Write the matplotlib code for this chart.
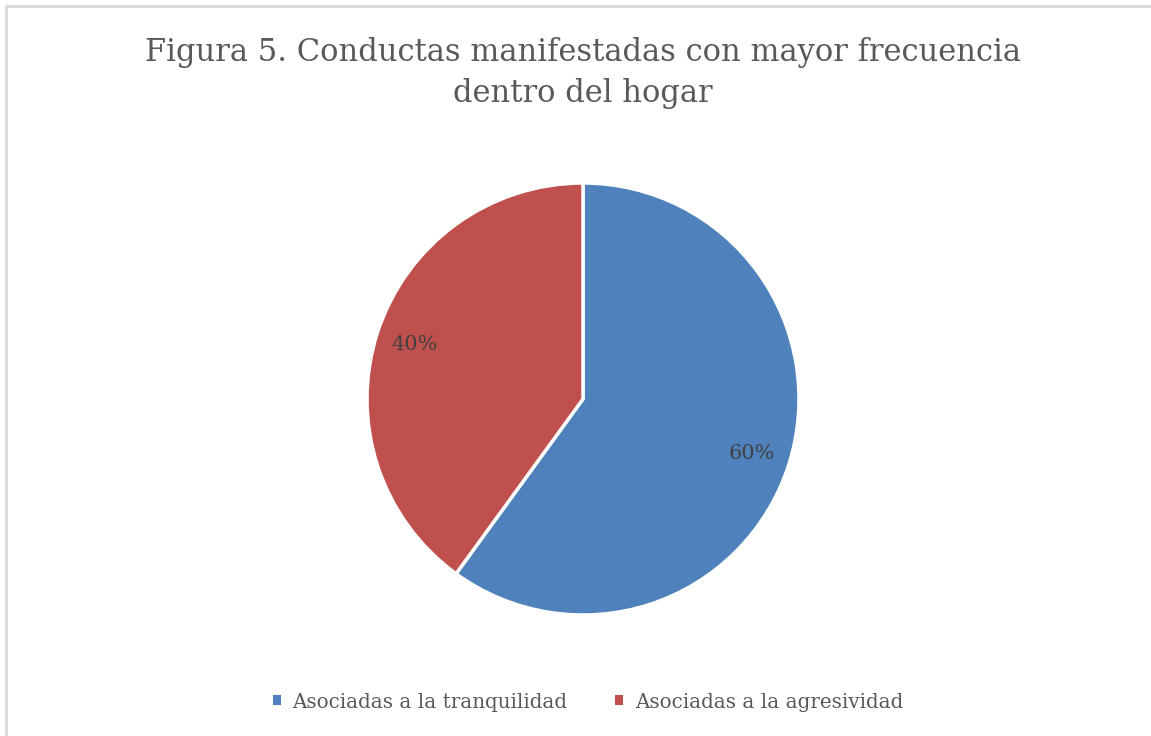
import matplotlib
matplotlib.use("Agg")
import matplotlib.pyplot as plt
from matplotlib.patches import Rectangle, Patch

title = "Figura 5. Conductas manifestadas con mayor frecuencia\ndentro del hogar"
labels = ["Asociadas a la tranquilidad", "Asociadas a la agresividad"]
values = [60, 40]
colors = ["#4F81BD", "#C0504D"]

W, H = 1151, 736
plt.rcParams['font.family'] = ['DejaVu Serif']

fig = plt.figure(figsize=(W / 100, H / 100), dpi=100)

# light gray chart border (right/bottom edges fall outside the image)
fig.patches.append(Rectangle((6 / W, -0.05), 1.2, 1 - 6 / H + 0.05,
                             transform=fig.transFigure, fill=False,
                             edgecolor="#D9D9D9", linewidth=2))

cx, cy, r = 583, 399, 216
ax = fig.add_axes([(cx - r) / W, 1 - (cy + r) / H, 2 * r / W, 2 * r / H])
wedges, texts, autotexts = ax.pie(
    values, colors=colors, startangle=90, counterclock=False,
    autopct="%1.0f%%", pctdistance=0.82,
    wedgeprops=dict(edgecolor="white", linewidth=2.5),
    textprops=dict(color="#404040", fontsize=15))
ax.set_xlim(-1, 1)
ax.set_ylim(-1, 1)
ax.set_aspect("equal")
ax.axis("off")

fig.text(cx / W, 1 - 73 / H, title, ha="center", va="center",
         fontsize=22, color="#595959", linespacing=1.45)

handles = [Patch(facecolor=c, edgecolor="none") for c in colors]
fig.legend(handles, labels, loc="center", bbox_to_anchor=(588 / W, 1 - 702 / H),
           ncol=2, frameon=False, fontsize=14.3, labelcolor="#595959",
           handlelength=0.4, handleheight=0.4, handletextpad=0.6,
           columnspacing=2.4)

fig.savefig("out.png", dpi=100)
